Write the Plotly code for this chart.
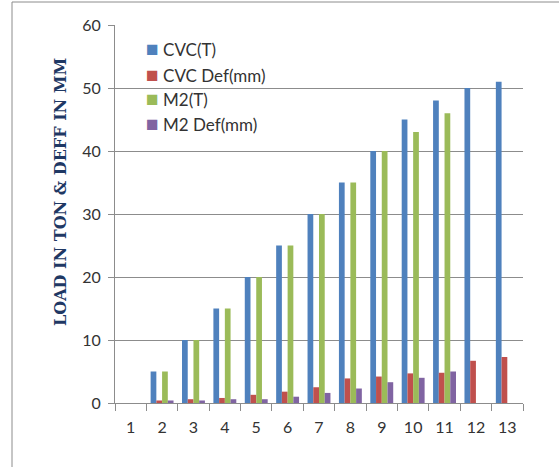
import plotly.graph_objects as go

categories = [str(i) for i in range(1, 14)]
cvc_load = [0, 5, 10, 15, 20, 25, 30, 35, 40, 45, 48, 50, 51]
cvc_def = [0, 0.4, 0.6, 0.8, 1.3, 1.8, 2.5, 3.9, 4.2, 4.7, 4.8, 6.7, 7.3]
m2_load = [0, 5, 10, 15, 20, 25, 30, 35, 40, 43, 46, 0, 0]
m2_def = [0, 0.4, 0.4, 0.6, 0.6, 1.0, 1.6, 2.3, 3.3, 4.0, 5.0, 0, 0]

series = [
    ("CVC(T)", cvc_load, "#4F81BD"),
    ("CVC Def(mm)", cvc_def, "#C0504D"),
    ("M2(T)", m2_load, "#9BBB59"),
    ("M2 Def(mm)", m2_def, "#8064A2"),
]

font_main = "Lato, 'Open Sans', sans-serif"

fig = go.Figure()
for name, vals, color in series:
    fig.add_trace(go.Bar(x=categories, y=vals, name=name, showlegend=False,
                         marker=dict(color=color, line=dict(width=0))))

W, H = 559, 467
L, R, T, B = 115, 36, 25, 64
pw, ph = W - L - R, H - T - B


def px_x(x):
    return (x - L) / pw


def px_y(y):
    return (H - B - y) / ph


# legend drawn as coloured squares followed by the series names
legend_rows = [48, 73, 97, 122]
annotations = []
for (name, _, color), yc in zip(series, legend_rows):
    annotations.append(dict(
        text=f'<span style="color:{color};font-size:21px">■</span> {name}',
        xref="paper", yref="paper", x=px_x(144), y=px_y(yc),
        xanchor="left", yanchor="middle", showarrow=False,
        font=dict(family=font_main, size=17, color="#333333")))

annotations.append(dict(
    text="<b>LOAD IN TON &amp; DEFF IN MM</b>", textangle=-90,
    xref="paper", yref="paper", x=px_x(61), y=px_y(192),
    xanchor="center", yanchor="middle", showarrow=False,
    font=dict(family="'DejaVu Serif', 'Liberation Serif', serif",
              size=16, color="#1F3864")))

fig.update_layout(
    width=W, height=H,
    margin=dict(l=L, r=R, t=T, b=B, pad=0),
    paper_bgcolor="white", plot_bgcolor="white",
    barmode="group", bargap=0.27, bargroupgap=0,
    font=dict(family=font_main, size=16, color="#333333"),
    showlegend=False,
    xaxis=dict(type="category", showgrid=False, showline=True,
               linecolor="#8C8C8C", linewidth=1,
               ticks="outside", ticklen=7, tickcolor="#8C8C8C",
               tickson="boundaries", ticklabelstandoff=10,
               tickfont=dict(size=16, color="#333333")),
    yaxis=dict(range=[0, 60], dtick=10, showgrid=True, gridcolor="#8C8C8C",
               gridwidth=1, showline=True, linecolor="#8C8C8C", linewidth=1,
               ticks="outside", ticklen=6, tickcolor="#8C8C8C",
               ticklabelstandoff=4,
               zeroline=False, tickfont=dict(size=16, color="#333333")),
    annotations=annotations,
    shapes=[
        dict(type="line", xref="paper", yref="paper",
             x0=px_x(12), x1=px_x(12), y0=px_y(2), y1=px_y(470),
             line=dict(color="#8C8C8C", width=1)),
        dict(type="line", xref="paper", yref="paper",
             x0=px_x(12), x1=px_x(570), y0=px_y(2), y1=px_y(2),
             line=dict(color="#8C8C8C", width=1)),
    ],
)

fig.write_html("out.html")
